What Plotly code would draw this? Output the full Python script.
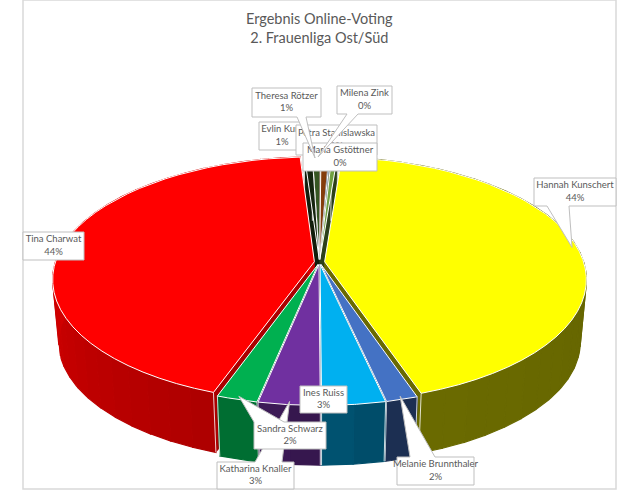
import numpy as np
import plotly.graph_objects as go

names = ["Hannah Kunschert", "Melanie Brunnthaler", "Ines Ruiss", "Katharina Knaller", "Sandra Schwarz",
         "Tina Charwat", "Evlin Kurz", "Theresa Rötzer", "Petra Stanislawska", "Maria Gstöttner", "Milena Zink"]
votes = [43.6, 1.7, 3.4, 3.3, 2.2, 43.55, 0.55, 0.55, 0.6, 0.15, 0.45]
colors = ["#FFFF00", "#4472C4", "#00B0F0", "#7030A0", "#00B050", "#FF0000",
          "#16240F", "#375623", "#843C0C", "#2F5597", "#70A040"]

# label boxes in page pixels: x0, y0, x1, y1
boxes = {
    "Hannah Kunschert": (534, 178, 616, 206),
    "Melanie Brunnthaler": (397, 457, 474, 485),
    "Ines Ruiss": (300, 386, 347, 413),
    "Katharina Knaller": (217, 462, 294, 489),
    "Sandra Schwarz": (254, 422, 326, 449),
    "Tina Charwat": (23, 232, 84, 260),
    "Evlin Kurz": (259, 122, 305, 150),
    "Theresa Rötzer": (252, 88, 321, 117),
    "Petra Stanislawska": (296, 125, 377, 155),
    "Maria Gstöttner": (303, 143, 377, 171),
    "Milena Zink": (337, 86, 392, 114),
}
# where the callout wedge leaves the box: y of the edge, x left, x right
wedges = {
    "Hannah Kunschert": (206, 547, 569),
    "Melanie Brunnthaler": (457, 410, 435),
    "Katharina Knaller": (462, 255, 282),
    "Sandra Schwarz": (422, 254, 284),
    "Theresa Rötzer": (117, 297, 306),
    "Milena Zink": (114, 347, 358),
}
tip_override = {"Theresa Rötzer": (315, 158), "Milena Zink": (318, 157)}
label_order = ["Hannah Kunschert", "Melanie Brunnthaler", "Katharina Knaller", "Sandra Schwarz", "Ines Ruiss",
               "Tina Charwat", "Evlin Kurz", "Petra Stanislawska", "Maria Gstöttner", "Theresa Rötzer", "Milena Zink"]

START = 4.5
EXPLODE = 0.02
PERSP = 0.144
CX = 319.5


def project(px, py, bottom=False):
    w = 1 + PERSP * py
    scale, y0 = (0.977, 325) if bottom else (1, 262)
    return CX + scale * 259 * px / w, y0 - scale * 120 * py / w


def arc(a0, a1, n=40):
    return np.radians(np.linspace(a0, a1, n))


def shade(angle):
    return np.interp(angle % 360, [90, 165, 185, 200, 270], [0.4, 0.42, 0.5, 0.68, 0.82])


def darker(color, f):
    r, g, b = [int(color[i:i + 2], 16) for i in (1, 3, 5)]
    return f"rgb({int(r * f)},{int(g * f)},{int(b * f)})"


def poly(fig, xs, ys, fill, line="white", width=1):
    fig.add_trace(go.Scatter(x=list(xs) + [xs[0]], y=list(ys) + [ys[0]], mode="lines", fill="toself",
                             fillcolor=fill, line=dict(color=line, width=width),
                             hoverinfo="skip", showlegend=False))


total = sum(votes)
edges = START + np.cumsum([0] + votes) * 360 / total
slices = []
for i in range(len(votes)):
    slices.append((edges[i], edges[i + 1], colors[i]))
mids = {names[i]: (edges[i] + edges[i + 1]) / 2 for i in range(len(names))}

fig = go.Figure()

for a0, a1, color in sorted(slices, key=lambda s: -abs(((s[0] + s[1]) / 2) % 360 - 180)):
    mid = np.radians((a0 + a1) / 2)
    ox, oy = EXPLODE * np.sin(mid), EXPLODE * np.cos(mid)

    # cut faces
    for edge in (a0, a1):
        t = np.radians(edge)
        top_x, top_y = project(np.array([ox, ox + np.sin(t)]), np.array([oy, oy + np.cos(t)]))
        bot_x, bot_y = project(np.array([ox, ox + np.sin(t)]), np.array([oy, oy + np.cos(t)]), True)
        poly(fig, [top_x[0], top_x[1], bot_x[1], bot_x[0]], [top_y[0], top_y[1], bot_y[1], bot_y[0]],
             darker(color, shade(edge)), darker(color, shade(edge)), 0.5)

    # outer wall, split up so the shade can change round the rim
    steps = max(1, int((a1 - a0) / 5))
    stops = np.linspace(a0, a1, steps + 1)
    for s0, s1 in zip(stops[:-1], stops[1:]):
        t = arc(s0, s1, 6)
        tx, ty = project(ox + np.sin(t), oy + np.cos(t))
        bx, by = project(ox + np.sin(t), oy + np.cos(t), True)
        c = darker(color, shade((s0 + s1) / 2))
        poly(fig, list(tx) + list(bx[::-1]), list(ty) + list(by[::-1]), c, c, 1.2)

    # white edges of the wall
    t = np.radians([a0, a1])
    tx, ty = project(ox + np.sin(t), oy + np.cos(t))
    bx, by = project(ox + np.sin(t), oy + np.cos(t), True)
    for k in range(2):
        fig.add_trace(go.Scatter(x=[tx[k], bx[k]], y=[ty[k], by[k]], mode="lines",
                                 line=dict(color="rgba(255,255,255,0.8)", width=1),
                                 hoverinfo="skip", showlegend=False))

    # top face
    t = arc(a0, a1)
    tx, ty = project(np.r_[ox, ox + np.sin(t)], np.r_[oy, oy + np.cos(t)])
    poly(fig, tx, ty, color)

# labels go last and in order, each one can hide the one under it
for name in label_order:
    x0, y0, x1, y1 = boxes[name]
    if name in wedges:
        edge_y, wl, wr = wedges[name]
        if name in tip_override:
            tip = tip_override[name]
        else:
            m = np.radians(mids[name])
            tip = project(np.sin(m), np.cos(m))
        if edge_y == y1:
            xs, ys = [x0, x1, x1, wr, tip[0], wl, x0], [y0, y0, y1, y1, tip[1], y1, y1]
        else:
            xs, ys = [x0, wl, tip[0], wr, x1, x1, x0], [y0, y0, tip[1], y0, y0, y1, y1]
    else:
        xs, ys = [x0, x1, x1, x0], [y0, y0, y1, y1]
    poly(fig, xs, ys, "white", "#BFBFBF", 1)
    pct = round(100 * votes[names.index(name)] / total)
    fig.add_trace(go.Scatter(x=[(x0 + x1) / 2], y=[(y0 + y1) / 2], mode="text", text=[f"{name}<br>{pct}%"],
                             textposition="middle center", hoverinfo="skip", showlegend=False,
                             cliponaxis=False,
                             textfont=dict(family="Lato", size=9.5, color="#595959")))

fig.add_shape(type="rect", x0=23, y0=0, x1=616, y1=489, line=dict(color="#D9D9D9", width=1.5), layer="below")
fig.add_annotation(x=319, y=28, text="Ergebnis Online-Voting<br>2. Frauenliga Ost/Süd", showarrow=False,
                   font=dict(family="Lato", size=14.5, color="#595959"))

fig.update_layout(width=640, height=490, margin=dict(l=0, r=0, t=0, b=0), paper_bgcolor="white",
                  plot_bgcolor="white", showlegend=False)
fig.update_xaxes(range=[0, 640], visible=False)
fig.update_yaxes(range=[490, 0], visible=False)

fig.write_html("out.html", config={"displayModeBar": False}, post_script="document.body.style.margin='0';")
